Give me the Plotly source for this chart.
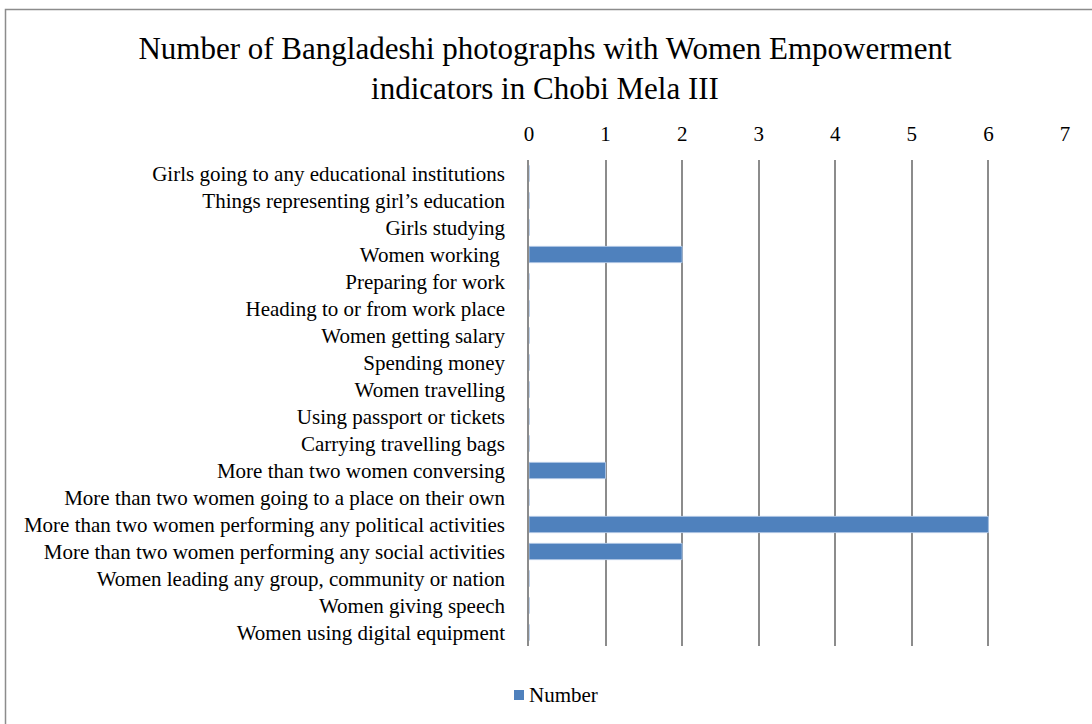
import plotly.graph_objects as go

categories = [
    "Girls going to any educational institutions",
    "Things representing girl\u2019s education",
    "Girls studying",
    "Women working ",
    "Preparing for work",
    "Heading to or from work place",
    "Women getting salary",
    "Spending money",
    "Women travelling",
    "Using passport or tickets",
    "Carrying travelling bags",
    "More than two women conversing",
    "More than two women going to a place on their own",
    "More than two women performing any political activities",
    "More than two women performing any social activities",
    "Women leading any group, community or nation",
    "Women giving speech",
    "Women using digital equipment",
]
numbers = [0, 0, 0, 2, 0, 0, 0, 0, 0, 0, 0, 1, 0, 6, 2, 0, 0, 0]
x_ticks = [0, 1, 2, 3, 4, 5, 6, 7]
series_name = "Number"

FONT = "Liberation Serif, Times New Roman, serif"
BAR_COLOR = "#4F81BD"
W, H = 1092, 724
L, R, T, B = 529, 27, 160, 78
pw, ph = W - L - R, H - T - B


def px_x(p):
    return (p - L) / pw


def px_y(p):
    return (H - B - p) / ph


fig = go.Figure(
    go.Bar(
        y=categories,
        x=numbers,
        orientation="h",
        name=series_name,
        marker=dict(color=BAR_COLOR, line=dict(color="#A9C2E2", width=1)),
        showlegend=False,
    )
)

fig.update_layout(
    width=W,
    height=H,
    margin=dict(l=L, r=R, t=T, b=B),
    paper_bgcolor="white",
    plot_bgcolor="white",
    font=dict(family=FONT, color="black", size=21),
    bargap=0.4,
    title=dict(
        text="Number of Bangladeshi photographs with Women Empowerment<br>indicators in Chobi Mela III",
        font=dict(family=FONT, size=31, color="black"),
        x=px_x(545),
        xref="paper",
        xanchor="center",
        y=1 - 59 / H,
        yanchor="top",
        yref="container",
    ),
    shapes=[
        # chart frame
        dict(
            type="rect",
            xref="paper",
            yref="paper",
            x0=px_x(5.5),
            x1=px_x(1120),
            y0=px_y(760),
            y1=px_y(9.5),
            line=dict(color="#8C8C8C", width=1.5),
            fillcolor="rgba(0,0,0,0)",
            layer="below",
        ),
        # legend swatch
        dict(
            type="rect",
            xref="paper",
            yref="paper",
            x0=px_x(514),
            x1=px_x(524),
            y0=px_y(700),
            y1=px_y(690),
            line=dict(width=0),
            fillcolor=BAR_COLOR,
        ),
    ],
    annotations=[
        dict(
            text=series_name,
            xref="paper",
            yref="paper",
            x=px_x(527),
            y=px_y(695),
            xanchor="left",
            yanchor="middle",
            showarrow=False,
            font=dict(family=FONT, size=21, color="black"),
        )
    ],
)

fig.update_xaxes(
    side="top",
    range=[0, 7],
    tickvals=x_ticks,
    showgrid=True,
    gridcolor="#8C8C8C",
    gridwidth=1.5,
    zeroline=False,
    showline=False,
    ticks="",
    ticklabelstandoff=14,
    tickfont=dict(family=FONT, size=21),
)

fig.update_yaxes(
    autorange="reversed",
    showgrid=False,
    showline=True,
    linecolor="#8C8C8C",
    linewidth=1.5,
    ticks="",
    ticklabelstandoff=18,
    tickfont=dict(family=FONT, size=21),
)

fig.write_html("out.html")
